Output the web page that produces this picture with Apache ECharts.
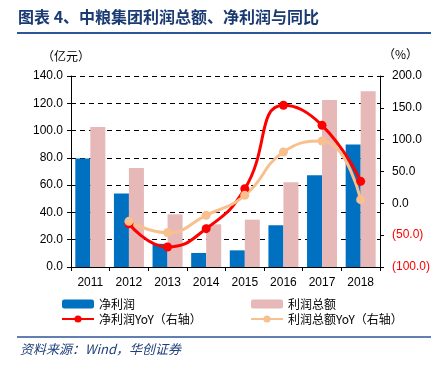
<!DOCTYPE html>
<html>
<head>
<meta charset="utf-8">
<script src="https://cdn.jsdelivr.net/npm/echarts@6/dist/echarts.min.js"></script>
<style>
  html, body { margin: 0; padding: 0; background: #fff; }
  #chart { width: 433px; height: 375px; }
</style>
</head>
<body>
<div id="chart"></div>
<script>
// 数据
const years = ['2011', '2012', '2013', '2014', '2015', '2016', '2017', '2018'];
const netProfit = [79.5, 53.8, 17.0, 10.3, 12.2, 30.6, 67.2, 89.7];
const totalProfit = [102.6, 72.6, 38.6, 31.3, 34.7, 62.1, 122.4, 128.8];
const netProfitYoY = [null, -32.0, -68.5, -39.8, 23.0, 154.0, 122.5, 34.5];
const totalProfitYoY = [null, -28.3, -46.0, -18.8, 12.6, 80.6, 97.9, 5.8];

const cjk = '"Noto Sans CJK SC", sans-serif';
const num = '"Liberation Sans", Arial, sans-serif';

var dom = document.getElementById('chart');
var myChart = echarts.init(dom, null, { renderer: 'canvas' });

var option = {
    animation: false,
    grid: { left: 71, right: 53, top: 76, bottom: 108 },
    graphic: [
        {
            type: 'text', left: 18, top: 9,
            style: { text: '图表 4、中粮集团利润总额、净利润与同比', font: 'bold 16px ' + cjk, fill: '#1a3a72' }
        },
        {
            type: 'line', shape: { x1: 17, y1: 33, x2: 431, y2: 33 },
            style: { stroke: '#2e5597', lineWidth: 2 }
        },
        {
            type: 'line', shape: { x1: 17, y1: 337, x2: 431, y2: 337 },
            style: { stroke: '#2e5597', lineWidth: 1.5 }
        },
        {
            type: 'text', left: 20, top: 343,
            style: { text: '资料来源：Wind，华创证券', font: 'italic 13px ' + cjk, fill: '#1f3f7a' }
        },
        {
            type: 'text', left: 42, top: 50,
            style: { text: '（亿元）', font: '12px ' + cjk, fill: '#000' }
        },
        {
            type: 'text', left: 383, top: 48,
            style: { text: '（%）', font: '12px ' + cjk, fill: '#000' }
        }
    ],
    legend: [
        {
            left: 56, top: 293, orient: 'vertical', itemGap: 3,
            itemWidth: 32, itemHeight: 9,
            textStyle: { fontFamily: cjk, fontSize: 12, color: '#000' },
            data: ['净利润', '净利润YoY（右轴）']
        },
        {
            left: 245, top: 293, orient: 'vertical', itemGap: 3,
            itemWidth: 32, itemHeight: 9,
            textStyle: { fontFamily: cjk, fontSize: 12, color: '#000' },
            data: ['利润总额', '利润总额YoY（右轴）']
        }
    ],
    xAxis: {
        type: 'category',
        data: years,
        axisLine: { lineStyle: { color: '#000' } },
        axisTick: { show: true, length: 4, lineStyle: { color: '#000' } },
        axisLabel: { fontFamily: num, fontSize: 12, color: '#000', margin: 10 }
    },
    yAxis: [
        {
            type: 'value', min: 0, max: 140, interval: 20,
            axisLine: { show: true, lineStyle: { color: '#000' } },
            axisTick: { show: true, length: 4, lineStyle: { color: '#000' } },
            splitLine: { lineStyle: { color: '#000', type: [5, 4] } },
            axisLabel: {
                fontFamily: num, fontSize: 12, color: '#000', margin: 8,
                formatter: function (v) { return v.toFixed(1); }
            }
        },
        {
            type: 'value', min: -100, max: 200, interval: 50,
            axisLine: { show: true, lineStyle: { color: '#000' } },
            axisTick: { show: true, length: 4, lineStyle: { color: '#000' } },
            splitLine: { show: false },
            axisLabel: {
                fontFamily: num, fontSize: 12, margin: 12,
                color: function (v) { return v < 0 ? '#ff0000' : '#000'; },
                formatter: function (v) {
                    return v < 0 ? '(' + Math.abs(v).toFixed(1) + ')' : v.toFixed(1);
                }
            }
        }
    ],
    series: [
        {
            name: '净利润', type: 'bar', data: netProfit,
            barWidth: 15, barGap: '0%',
            itemStyle: { color: '#0070c0' }
        },
        {
            name: '利润总额', type: 'bar', data: totalProfit,
            barWidth: 15,
            itemStyle: { color: '#e6b9b8' }
        },
        {
            name: '净利润YoY（右轴）', type: 'line', yAxisIndex: 1, data: netProfitYoY,
            smooth: 0.5, symbol: 'circle', symbolSize: 9,
            lineStyle: { color: '#ff0000', width: 3 },
            itemStyle: { color: '#ff0000' }
        },
        {
            name: '利润总额YoY（右轴）', type: 'line', yAxisIndex: 1, data: totalProfitYoY,
            smooth: 0.5, symbol: 'circle', symbolSize: 9,
            lineStyle: { color: '#f9c08f', width: 3 },
            itemStyle: { color: '#f9c08f' }
        }
    ]
};

myChart.setOption(option);
</script>
</body>
</html>
